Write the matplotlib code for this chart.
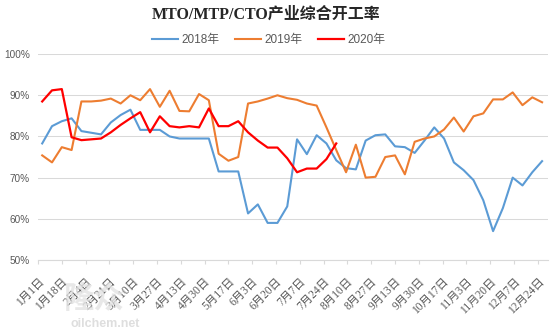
import numpy as np
import matplotlib
matplotlib.use("Agg")
import matplotlib.pyplot as plt

plt.rcParams['font.family'] = ['Liberation Sans', 'Noto Sans CJK SC']

# weekly readings, day offset from Jan 1
days = np.arange(52) * 7 + 3

rate_2018 = [78.3, 82.5, 83.7, 84.4, 81.3, 80.9, 80.5, 83.4, 85.2, 86.5,
             81.6, 81.6, 81.6, 80.0, 79.5, 79.5, 79.5, 79.5, 71.5, 71.5,
             71.5, 61.3, 63.5, 59.0, 59.0, 63.0, 79.3, 75.7, 80.3, 78.3,
             74.2, 72.3, 72.0, 79.0, 80.3, 80.5, 77.6, 77.4, 76.0, 79.0,
             82.2, 79.5, 73.7, 71.8, 69.4, 64.5, 57.0, 62.6, 70.0, 68.1,
             71.3, 74.0]

rate_2019 = [75.4, 73.7, 77.4, 76.7, 88.5, 88.5, 88.7, 89.2, 88.0, 90.0,
             88.8, 91.5, 87.2, 91.1, 86.2, 86.1, 90.3, 88.8, 75.8, 74.1,
             75.0, 88.0, 88.5, 89.2, 90.0, 89.3, 88.9, 88.0, 87.5, 82.2,
             76.7, 71.3, 78.0, 70.0, 70.2, 75.0, 75.4, 70.8, 78.7, 79.5,
             80.0, 81.7, 84.6, 81.2, 84.9, 85.6, 89.0, 89.0, 90.7, 87.6,
             89.5, 88.3]

rate_2020 = [88.5, 91.2, 91.5, 79.8, 79.1, 79.3, 79.5, 81.0, 82.8, 84.4,
             85.9, 81.0, 84.9, 82.5, 82.2, 82.5, 82.2, 86.8, 82.5, 82.5,
             83.7, 81.0, 79.0, 77.3, 77.3, 74.7, 71.3, 72.2, 72.2, 74.5,
             78.3]

tick_days = np.arange(0, 358, 17)
tick_labels = ["1月1日", "1月18日", "2月4日", "2月21日", "3月10日", "3月27日",
               "4月13日", "4月30日", "5月17日", "6月3日", "6月20日", "7月7日",
               "7月24日", "8月10日", "8月27日", "9月13日", "9月30日",
               "10月17日", "11月3日", "11月20日", "12月7日", "12月24日"]

grey = '#595959'

fig = plt.figure(figsize=(5.54, 3.32), dpi=100)
ax = fig.add_axes([0.0686, 0.217, 0.92, 0.62])

ax.plot(days, rate_2018, color='#5B9BD5', lw=1.5, label='2018年')
ax.plot(days, rate_2019, color='#ED7D31', lw=1.5, label='2019年')
ax.plot(days[:len(rate_2020)], rate_2020, color='#FF0000', lw=1.6, label='2020年')

ax.set_xlim(0, 364)
ax.set_ylim(50, 100)
ax.set_yticks(np.arange(50, 101, 10))
ax.set_yticklabels([f"{v}%" for v in range(50, 101, 10)], color=grey, fontsize=7.2)
ax.tick_params(axis='y', length=0, pad=6)

ax.set_xticks(tick_days)
ax.set_xticklabels(tick_labels, rotation=45, ha='right', rotation_mode='anchor',
                   fontsize=8.3, color=grey,
                   family=['Liberation Serif', 'Noto Sans CJK SC'])
ax.tick_params(axis='x', length=3, color='#d9d9d9', pad=8)

ax.grid(axis='y', color='#d9d9d9', lw=0.75)
ax.set_axisbelow(True)
for side in ['top', 'right', 'left']:
    ax.spines[side].set_visible(False)
ax.spines['bottom'].set_color('#d9d9d9')

fig.text(0.48, 0.955, "MTO/MTP/CTO产业综合开工率", ha='center', va='center',
         fontsize=11.5, fontweight='bold', color='#262626',
         family=['Liberation Serif', 'Noto Sans CJK SC'])

fig.legend(loc='center', bbox_to_anchor=(0.485, 0.88), ncol=3, frameon=False,
           fontsize=8.5, handlelength=2.2, handletextpad=0.3,
           columnspacing=1.3, labelcolor=grey)

# faint site watermark
fig.text(0.17, 0.095, "隆众", fontsize=22, color='#e3e3e3', fontweight='bold',
         ha='center', va='center', alpha=0.8, zorder=0)
fig.text(0.19, 0.025, "oilchem.net", fontsize=9, color='#dedede', fontweight='bold',
         ha='center', va='center', zorder=0)

fig.savefig("out.png", dpi=100)
